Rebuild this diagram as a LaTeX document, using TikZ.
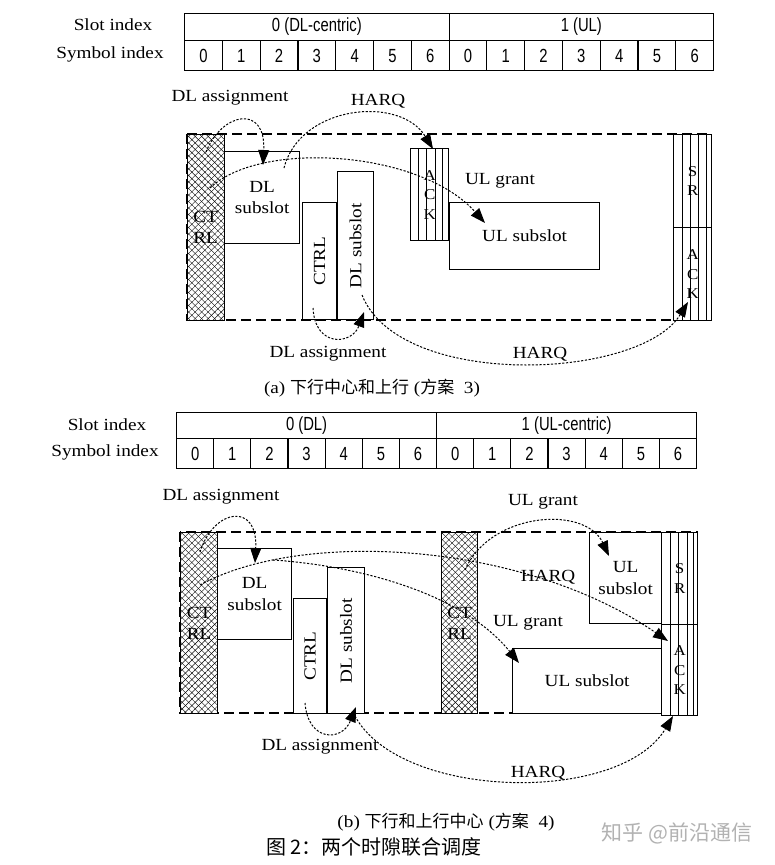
\documentclass[tikz,border=0pt]{standalone}
\usepackage{fontspec}
\setmainfont[FakeStretch=1.13]{Liberation Serif}
\newfontfamily\digfont[FakeStretch=0.78]{Liberation Sans}
\newfontfamily\cjk{Noto Sans CJK SC}
\usetikzlibrary{arrows.meta,patterns.meta}
\begin{document}
\begin{tikzpicture}[x=1pt,y=-1pt,
  cell/.style={draw, line width=1.2pt, inner sep=0pt, anchor=north west, font=\digfont\fontsize{19}{22}\selectfont},
  lbl/.style={inner sep=0pt, font=\fontsize{17}{20}\selectfont},
  box/.style={draw, line width=1.3pt, fill=white, inner sep=0pt, anchor=north west, align=center, font=\fontsize{17}{21.5}\selectfont},
  hatch/.style={box, pattern={Lines[angle=45,distance=4.6pt,line width=0.4pt]}, preaction={fill=white}, postaction={pattern={Lines[angle=-45,distance=4.6pt,line width=0.4pt]}}},
  small/.style={inner sep=0pt, align=center, font=\fontsize{15}{19.5}\selectfont},
  stripe/.style={line width=0.7pt},
  frame/.style={line width=1.3pt, dash pattern=on 10pt off 5pt},
  sig/.style={line width=1pt, dash pattern=on 2.2pt off 1.6pt, -{Triangle[length=15pt,width=11pt]}},
  captext/.style={inner sep=0pt, font=\fontsize{17}{20}\selectfont}
]
\useasboundingbox (0,0) rectangle (774,865);
\fill[white] (0,0) rectangle (774,865);

% ===== (a) table =====
\node[lbl] (slotA) at (113,25) {Slot index};
\node[lbl] (symA) at (110,54) {Symbol index};
\node[cell, minimum width=264.5pt, minimum height=27.5pt] (sa0) at (184,12.5) {0 (DL-centric)};
\node[cell, minimum width=264.5pt, minimum height=27.5pt] (sa1) at (448.5,12.5) {1 (UL)};
\foreach \i/\d in {0/0,1/1,2/2,3/3,4/4,5/5,6/6,7/0,8/1,9/2,10/3,11/4,12/5,13/6}
  \node[cell, minimum width=37.786pt, minimum height=30pt] (ya\i) at ({184+\i*37.786},40) {\d};

% ===== (a) diagram =====
\draw[frame] (187,134) rectangle (711,320);
\node[hatch, minimum width=37pt, minimum height=186pt] (ctrlA) at (187,134) {CT\\RL};
\node[box, minimum width=75pt, minimum height=92pt] (dlA) at (224,151) {DL\\subslot};
\node[box, minimum width=34pt, minimum height=117pt] (ctrlA2) at (302,202) {};
\node[lbl, rotate=90] (ctrlA2t) at (ctrlA2.center) {CTRL};
\node[box, minimum width=36pt, minimum height=148pt] (dlA2) at (337,171) {};
\node[lbl, rotate=90] (dlA2t) at (dlA2.center) {DL subslot};
\node[box, minimum width=38pt, minimum height=92pt] (ackA) at (410,148) {};
\foreach \x in {418,426.5,435,442} \draw[stripe] (\x,148) -- (\x,240);
\node[small] (ackAt) at (ackA.center) {A\\C\\K};
\node[box, minimum width=150pt, minimum height=67pt] (ulA) at (449,202) {UL subslot};
\node[box, minimum width=38pt, minimum height=93pt] (srA) at (673,134) {};
\node[box, minimum width=38pt, minimum height=93pt] (ackA2) at (673,227) {};
\foreach \x in {682,690,698,706} \draw[stripe] (\x,134) -- (\x,320);
\node[small] (srAt) at (srA.center) {S\\R};
\node[small] (ackA2t) at (ackA2.center) {A\\C\\K};

\node[lbl] (la1) at (230,98) {DL assignment};
\node[lbl] (la2) at (378,101) {HARQ};
\node[lbl] (la3) at (500,181) {UL grant};
\node[lbl] (la4) at (328,354) {DL assignment};
\node[lbl] (la5) at (540,354) {HARQ};

\coordinate (a1s) at (206,152); \coordinate (a1e) at (263,165);
\coordinate (a2s) at (284,168); \coordinate (a2e) at (433,149);
\coordinate (a3s) at (210,188); \coordinate (a3e) at (485,223);
\coordinate (a4s) at (313,308); \coordinate (a4e) at (364,312);
\coordinate (a5s) at (362,295); \coordinate (a5e) at (688,302);
\draw[sig] (a1s) .. controls (222,112) and (266,104) .. (a1e);
\draw[sig] (a2s) .. controls (300,105) and (400,95) .. (a2e);
\draw[sig] (a3s) .. controls (260,140) and (420,150) .. (a3e);
\draw[sig] (a4s) .. controls (315,348) and (352,345) .. (a4e);
\draw[sig] (a5s) .. controls (400,390) and (640,380) .. (a5e);

\node[captext] (capA) at (372,388) {(a)\ {\cjk 下行中心和上行}\ ({\cjk 方案}\ \ 3)};

% ===== (b) table =====
\node[lbl] (slotB) at (107,425) {Slot index};
\node[lbl] (symB) at (105,452) {Symbol index};
\node[cell, minimum width=260pt, minimum height=26.5pt] (sb0) at (176,411.5) {0 (DL)};
\node[cell, minimum width=260pt, minimum height=26.5pt] (sb1) at (436,411.5) {1 (UL-centric)};
\foreach \i/\d in {0/0,1/1,2/2,3/3,4/4,5/5,6/6,7/0,8/1,9/2,10/3,11/4,12/5,13/6}
  \node[cell, minimum width=37.143pt, minimum height=30pt] (yb\i) at ({176+\i*37.143},438) {\d};

% ===== (b) diagram =====
\draw[frame] (180,532) rectangle (697,713);
\node[hatch, minimum width=37pt, minimum height=181pt] (ctrlB) at (180,532) {CT\\RL};
\node[box, minimum width=74pt, minimum height=91pt] (dlB) at (217,548) {DL\\subslot};
\node[box, minimum width=33pt, minimum height=115pt] (ctrlB2) at (293,598) {};
\node[lbl, rotate=90] (ctrlB2t) at (ctrlB2.center) {CTRL};
\node[box, minimum width=37pt, minimum height=146pt] (dlB2) at (327,567) {};
\node[lbl, rotate=90] (dlB2t) at (dlB2.center) {DL subslot};
\node[hatch, minimum width=36pt, minimum height=181pt] (ctrlB3) at (441,532) {CT\\RL};
\node[box, minimum width=72pt, minimum height=91pt] (ulB1) at (589,532) {UL\\subslot};
\node[box, minimum width=149pt, minimum height=65pt] (ulB2) at (512,648) {UL subslot};
\node[box, minimum width=36pt, minimum height=92pt] (srB) at (661,532) {};
\node[box, minimum width=36pt, minimum height=91pt] (ackB) at (661,624) {};
\foreach \x in {670,678,687,693} \draw[stripe] (\x,532) -- (\x,715);
\node[small] (srBt) at (srB.center) {S\\R};
\node[small] (ackBt) at (ackB.center) {A\\C\\K};

\node[lbl] (lb1) at (221,497) {DL assignment};
\node[lbl] (lb2) at (543,502) {UL grant};
\node[lbl] (lb3) at (548,577) {HARQ};
\node[lbl] (lb4) at (528,623) {UL grant};
\node[lbl] (lb5) at (320,747) {DL assignment};
\node[lbl] (lb6) at (538,773) {HARQ};

\coordinate (b1s) at (200,552); \coordinate (b1e) at (255,563);
\coordinate (b2s) at (200,585); \coordinate (b2e) at (668,641);
\coordinate (b3s) at (273,560); \coordinate (b3e) at (519,663);
\coordinate (b4s) at (465,570); \coordinate (b4e) at (609,556);
\coordinate (b6s) at (305,703); \coordinate (b6e) at (356,707);
\coordinate (b7s) at (355,716); \coordinate (b7e) at (673,716);
\draw[sig] (b1s) .. controls (214,508) and (258,502) .. (b1e);
\draw[sig] (b2s) .. controls (300,530) and (520,540) .. (b2e);
\draw[sig] (b3s) .. controls (350,565) and (460,590) .. (b3e);
\draw[sig] (b4s) .. controls (490,512) and (585,505) .. (b4e);
\draw[sig] (b6s) .. controls (308,742) and (342,742) .. (b6e);
\draw[sig] (b7s) .. controls (400,800) and (620,805) .. (b7e);

\node[captext] (capB) at (446,822) {(b)\ {\cjk 下行和上行中心}\ ({\cjk 方案}\ \ 4)};
\node[inner sep=0pt, font=\cjk\fontsize{20}{22}\selectfont] (fig) at (374,847) {图 2：两个时隙联合调度};
\node[inner sep=0pt, text=black!30, font=\cjk\fontsize{21}{24}\selectfont] (wm) at (677,833) {知乎 @前沿通信};
\end{tikzpicture}
\end{document}
